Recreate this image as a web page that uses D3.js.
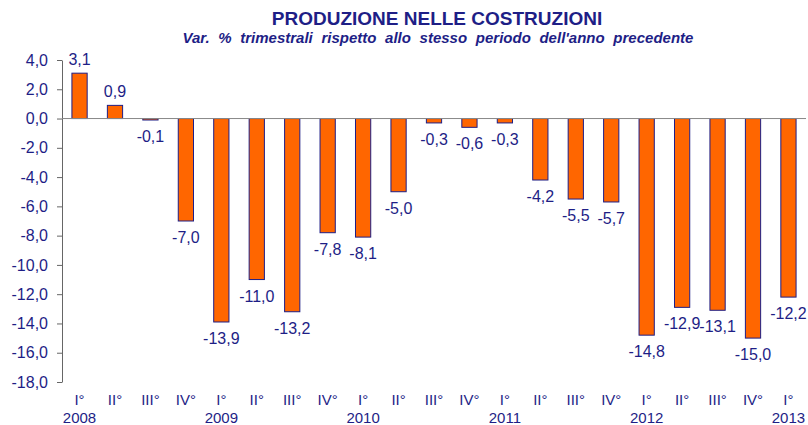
<!DOCTYPE html>
<html><head><meta charset="utf-8">
<script src="https://cdn.jsdelivr.net/npm/d3@7"></script>
<style>body{margin:0;background:#fff}svg{display:block}</style>
</head><body>
<svg id="c" width="808" height="425"></svg>
<script>
const quarters = ["I°","II°","III°","IV°","I°","II°","III°","IV°","I°","II°","III°","IV°","I°","II°","III°","IV°","I°","II°","III°","IV°","I°"];
const years = ["2008","","","","2009","","","","2010","","","","2011","","","","2012","","","","2013"];
const values = [3.1,0.9,-0.1,-7.0,-13.9,-11.0,-13.2,-7.8,-8.1,-5.0,-0.3,-0.6,-0.3,-4.2,-5.5,-5.7,-14.8,-12.9,-13.1,-15.0,-12.2];
const yTicks = [4,2,0,-2,-4,-6,-8,-10,-12,-14,-16,-18];
const title = "PRODUZIONE NELLE COSTRUZIONI";
const subtitle = "Var. % trimestrali rispetto allo stesso periodo dell'anno precedente";

const navy = "#1e1e86";
const font = "Arial, 'Liberation Sans', sans-serif";
const svg = d3.select("#c");
const idx = values.map((d,i)=>i);
const x = d3.scaleBand().domain(idx).range([62, 806]).paddingInner(0.57).paddingOuter(0.28);
const y = d3.scaleLinear().domain([-18, 4]).range([382, 60]);
const fmt = v => v.toFixed(1).replace(".", ",");

svg.append("text").attr("x", 437).attr("y", 25).attr("text-anchor","middle")
  .attr("font-family", font).attr("font-weight","bold").attr("font-size", 19).attr("fill", navy).text(title);
svg.append("text").attr("x", 438).attr("y", 43).attr("text-anchor","middle")
  .attr("font-family", font).attr("font-weight","bold").attr("font-style","italic").attr("font-size", 15)
  .attr("word-spacing", 4.5).attr("fill", navy).text(subtitle);

// y axis
const ya = svg.append("g").attr("transform","translate(62,0)")
  .call(d3.axisLeft(y).tickValues(yTicks).tickFormat(fmt).tickSize(5).tickSizeOuter(0));
ya.select(".domain").attr("stroke","#666");
ya.selectAll(".tick line").attr("stroke","#666");
ya.selectAll(".tick text").attr("font-family", font).attr("font-size", 16).attr("fill", navy).attr("x", -14);

// bars
svg.append("g").selectAll("rect").data(values).join("rect")
  .attr("x", (d,i)=>x(i)).attr("width", x.bandwidth())
  .attr("y", d=>y(Math.max(0,d))).attr("height", d=>Math.abs(y(d)-y(0)))
  .attr("fill","#ff6600").attr("stroke", navy).attr("stroke-width",1);

// zero line
svg.append("line").attr("x1",62).attr("x2",806).attr("y1",y(0)).attr("y2",y(0)).attr("stroke","#888").attr("stroke-width",1);

// value labels
svg.append("g").selectAll("text").data(values).join("text")
  .attr("x",(d,i)=>x(i)+x.bandwidth()/2)
  .attr("y", d=> d>=0 ? y(d)-8 : y(d)+22)
  .attr("text-anchor","middle").attr("font-family",font).attr("font-size",16).attr("fill",navy)
  .text(fmt);

// category labels
const cats = svg.append("g");
cats.selectAll("text.q").data(quarters).join("text").attr("class","q")
  .attr("x",(d,i)=>x(i)+x.bandwidth()/2).attr("y",405)
  .attr("text-anchor","middle").attr("font-family",font).attr("font-size",15).attr("fill",navy).text(d=>d);
cats.selectAll("text.yr").data(years).join("text").attr("class","yr")
  .attr("x",(d,i)=>x(i)+x.bandwidth()/2).attr("y",423)
  .attr("text-anchor","middle").attr("font-family",font).attr("font-size",15).attr("fill",navy).text(d=>d);
</script>
</body></html>
